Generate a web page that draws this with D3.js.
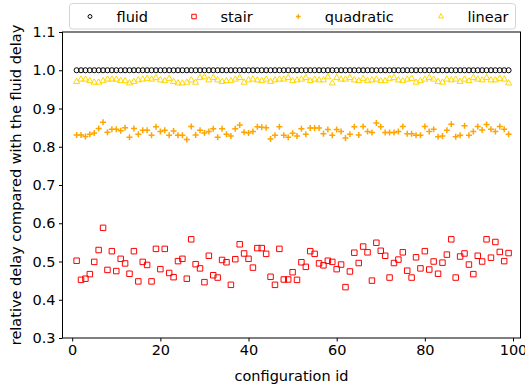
<!doctype html>
<html>
<head>
    <title>relative delay</title>
    <script src="https://d3js.org/d3.v7.min.js"></script>
</head>
<style>
    body { margin: 0; background: #fff; }
    svg text { font-family: "DejaVu Sans", sans-serif; }
</style>
<body>
<script>

// configuration ids 1..99
var ids = d3.range(1, 100);

// fluid delay is the reference, always 1
var fluid = ids.map(function() { return 1.0; });

var stair = [0.502, 0.452, 0.455, 0.467, 0.499, 0.530, 0.588, 0.478, 0.527, 0.475,
             0.507, 0.495, 0.468, 0.527, 0.448, 0.499, 0.491, 0.448, 0.533, 0.480,
             0.533, 0.470, 0.459, 0.501, 0.507, 0.455, 0.558, 0.493, 0.482, 0.446,
             0.515, 0.464, 0.458, 0.504, 0.498, 0.439, 0.506, 0.545, 0.521, 0.507,
             0.484, 0.535, 0.535, 0.520, 0.460, 0.439, 0.533, 0.453, 0.453, 0.472,
             0.452, 0.498, 0.486, 0.527, 0.520, 0.495, 0.490, 0.502, 0.499, 0.480,
             0.492, 0.433, 0.474, 0.523, 0.496, 0.539, 0.524, 0.450, 0.549, 0.528,
             0.515, 0.458, 0.496, 0.505, 0.524, 0.476, 0.458, 0.511, 0.482, 0.527,
             0.479, 0.500, 0.468, 0.497, 0.518, 0.558, 0.458, 0.513, 0.521, 0.492,
             0.467, 0.515, 0.500, 0.558, 0.510, 0.551, 0.525, 0.501, 0.522];

var quadratic = [0.831, 0.831, 0.827, 0.833, 0.836, 0.848, 0.864, 0.838, 0.846, 0.846,
                 0.842, 0.850, 0.825, 0.848, 0.833, 0.843, 0.843, 0.830, 0.852, 0.840,
                 0.843, 0.830, 0.841, 0.830, 0.830, 0.819, 0.853, 0.831, 0.843, 0.836,
                 0.840, 0.847, 0.825, 0.847, 0.833, 0.828, 0.847, 0.857, 0.838, 0.836,
                 0.840, 0.852, 0.851, 0.850, 0.820, 0.830, 0.852, 0.830, 0.825, 0.835,
                 0.828, 0.847, 0.833, 0.849, 0.849, 0.849, 0.834, 0.845, 0.830, 0.845,
                 0.840, 0.823, 0.833, 0.852, 0.831, 0.853, 0.840, 0.837, 0.862, 0.852,
                 0.837, 0.837, 0.837, 0.840, 0.853, 0.834, 0.834, 0.830, 0.830, 0.853,
                 0.840, 0.846, 0.826, 0.828, 0.843, 0.859, 0.826, 0.830, 0.855, 0.830,
                 0.840, 0.853, 0.844, 0.858, 0.846, 0.840, 0.853, 0.846, 0.833];

var linear = [0.972, 0.978, 0.978, 0.974, 0.970, 0.970, 0.974, 0.978, 0.978, 0.978,
              0.974, 0.974, 0.968, 0.972, 0.976, 0.978, 0.980, 0.978, 0.982, 0.976,
              0.974, 0.980, 0.972, 0.968, 0.968, 0.970, 0.976, 0.970, 0.982, 0.984,
              0.976, 0.982, 0.976, 0.972, 0.974, 0.974, 0.978, 0.982, 0.970, 0.976,
              0.978, 0.976, 0.974, 0.978, 0.972, 0.976, 0.978, 0.978, 0.982, 0.974,
              0.976, 0.978, 0.982, 0.974, 0.978, 0.976, 0.976, 0.984, 0.968, 0.982,
              0.978, 0.978, 0.982, 0.976, 0.974, 0.980, 0.974, 0.976, 0.978, 0.974,
              0.974, 0.980, 0.982, 0.976, 0.974, 0.978, 0.980, 0.970, 0.974, 0.978,
              0.982, 0.978, 0.972, 0.970, 0.978, 0.976, 0.978, 0.972, 0.978, 0.974,
              0.982, 0.978, 0.976, 0.982, 0.976, 0.976, 0.980, 0.978, 0.968];

var xTicks = [0, 20, 40, 60, 80, 100];
var yTicks = [0.3, 0.4, 0.5, 0.6, 0.7, 0.8, 0.9, 1.0, 1.1];

var series = [
    { name: 'fluid', values: fluid, color: '#000000', symbol: d3.symbolCircle, size: 20, legendSize: 12 },
    { name: 'stair', values: stair, color: '#ff0000', symbol: d3.symbolSquare, size: 30, legendSize: 20 },
    { name: 'quadratic', values: quadratic, color: '#ffa500', symbol: 'plus', size: 6, legendSize: 4.5 },
    { name: 'linear', values: linear, color: '#ffd700', symbol: d3.symbolTriangle, size: 16, legendSize: 11 }
];

// canvas
var width = 525, height = 388;
var plotLeft = 62.5, plotRight = 520.5, plotTop = 32, plotBottom = 338;
var fontSize = 14.5;

var svg = d3.select('body')
            .append('svg')
            .attr('width', width)
            .attr('height', height);

var xScale = d3.scaleLinear()
               .domain([-2.2, 101.7])
               .range([plotLeft, plotRight]);

var yScale = d3.scaleLinear()
               .domain([0.3, 1.1])
               .range([plotBottom, plotTop]);

// marker path for each series
function markerPath(symbol, size) {
    if (symbol === 'plus') {
        var h = size / 2;
        return 'M' + (-h) + ',0H' + h + 'M0,' + (-h) + 'V' + h;
    }
    return d3.symbol().type(symbol).size(size)();
}

// points
series.forEach(function(s) {
    var path = markerPath(s.symbol, s.size);
    var plus = s.symbol === 'plus';
    svg.append('g')
       .selectAll('path')
       .data(s.values)
       .enter()
       .append('path')
       .attr('transform', function(d, i) {
           var dy = s.symbol === d3.symbolTriangle ? 0.7 : 0;
           return 'translate(' + xScale(ids[i]) + ',' + (yScale(d) + dy) + ')';
       })
       .attr('d', path)
       .attr('fill', 'none')
       .attr('stroke', s.color)
       .attr('stroke-width', plus ? 1.5 : 1);
});

// frame
svg.append('rect')
   .attr('x', plotLeft)
   .attr('y', plotTop)
   .attr('width', plotRight - plotLeft)
   .attr('height', plotBottom - plotTop)
   .attr('fill', 'none')
   .attr('stroke', '#000')
   .attr('stroke-width', 1);

// axes
var xAxis = d3.axisBottom(xScale)
              .tickValues(xTicks)
              .tickSize(3.5)
              .tickPadding(3.5)
              .tickFormat(d3.format('d'));

var yAxis = d3.axisLeft(yScale)
              .tickValues(yTicks)
              .tickSize(3.5)
              .tickPadding(3.5)
              .tickFormat(d3.format('.1f'));

var gx = svg.append('g')
            .attr('transform', 'translate(0,' + plotBottom + ')')
            .call(xAxis);

var gy = svg.append('g')
            .attr('transform', 'translate(' + plotLeft + ',0)')
            .call(yAxis);

[gx, gy].forEach(function(g) {
    g.select('.domain').remove();
    g.selectAll('text')
     .attr('font-family', '"DejaVu Sans", sans-serif')
     .attr('font-size', fontSize)
     .attr('fill', '#000');
    g.selectAll('line').attr('stroke', '#000');
});

// axis labels
svg.append('text')
   .attr('x', (plotLeft + plotRight) / 2)
   .attr('y', 381)
   .attr('text-anchor', 'middle')
   .attr('font-size', fontSize)
   .text('configuration id');

svg.append('text')
   .attr('transform', 'translate(21,' + (plotTop + plotBottom) / 2 + ') rotate(-90)')
   .attr('text-anchor', 'middle')
   .attr('font-size', fontSize)
   .text('relative delay compared with the fluid delay');

// legend
var legend = svg.append('g');

legend.append('rect')
      .attr('x', 69.5)
      .attr('y', 3.5)
      .attr('width', 446)
      .attr('height', 25.5)
      .attr('rx', 3)
      .attr('fill', '#fff')
      .attr('fill-opacity', 0.8)
      .attr('stroke', '#d5d5d5')
      .attr('stroke-width', 1);

var legendX = [90, 194, 298.3, 441];

series.forEach(function(s, i) {
    var plus = s.symbol === 'plus';
    legend.append('path')
          .attr('transform', 'translate(' + legendX[i] + ',16.5)')
          .attr('d', markerPath(s.symbol, s.legendSize))
          .attr('fill', 'none')
          .attr('stroke', s.color)
          .attr('stroke-width', plus ? 1.5 : 1);
    legend.append('text')
          .attr('x', legendX[i] + 26.5)
          .attr('y', 21.5)
          .attr('font-size', fontSize)
          .text(s.name);
});

</script>
</body>
</html>
